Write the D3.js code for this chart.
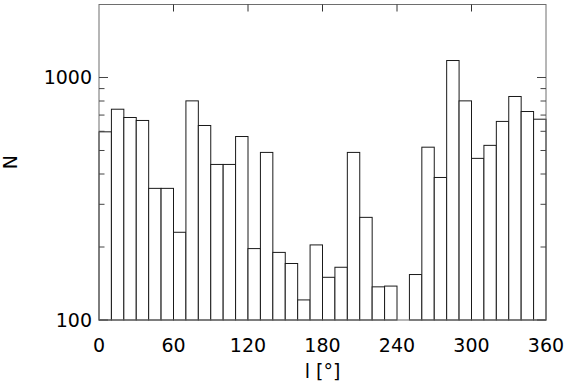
<!DOCTYPE html>
<html>
<head>
<meta charset="utf-8">
<script src="https://cdn.jsdelivr.net/npm/d3@7"></script>
<style>
    body { margin: 0; background: #fff; }
    text { font-family: "DejaVu Sans", sans-serif; fill: #000; }
</style>
</head>
<body>
<div id="chart"></div>
<script>
// bin edges, 10 degree bins
var binStart = [0, 10, 20, 30, 40, 50, 60, 70, 80, 90, 100, 110, 120, 130, 140, 150, 160, 170,
    180, 190, 200, 210, 220, 230, 240, 250, 260, 270, 280, 290, 300, 310, 320, 330, 340, 350];
var counts = [597, 740, 684, 665, 349, 349, 230, 801, 634, 438, 438, 571, 197, 491, 190, 171, 121, 204,
    150, 165, 491, 265, 137, 138, 90, 154, 516, 387, 1175, 801, 464, 525, 659, 835, 724, 673];
var xTicks = [0, 60, 120, 180, 240, 300, 360];
var yTicks = [100, 1000];
var yMinor = [200, 300, 400, 500, 600, 700, 800, 900];

var svg = d3.select("#chart")
        .append("svg")
        .attr("width", 570)
        .attr("height", 390),
    margin = {top: 4.5, right: 24, bottom: 70, left: 99},
    width = 570 - margin.left - margin.right,
    height = 390 - margin.top - margin.bottom,
    g = svg.append("g").attr("transform", "translate(" + margin.left + "," + margin.top + ")"),
    x = d3.scaleLinear()
        .domain([0, 360])
        .range([0, width]),
    y = d3.scaleLog()
        .domain([100, 2000])
        .range([height, 0])
        .clamp(true);

/* bars */
g.selectAll(".bar")
    .data(counts)
    .enter()
    .append("rect")
    .attr("class", "bar")
    .attr("x", function(d, i) { return x(binStart[i]); })
    .attr("y", function(d) { return y(d); })
    .attr("width", x(10) - x(0))
    .attr("height", function(d) { return height - y(d); })
    .style("fill", "#fff")
    .style("stroke", "#1a1a1a")
    .style("stroke-width", 1);

/* frame */
g.append("rect")
    .attr("width", width)
    .attr("height", height)
    .style("fill", "none")
    .style("stroke", "#6e6e6e")
    .style("stroke-width", 1);

/* x ticks on top, labels at bottom */
g.selectAll(".xtick")
    .data(xTicks.slice(1, -1))
    .enter()
    .append("line")
    .attr("x1", function(d) { return x(d); })
    .attr("x2", function(d) { return x(d); })
    .attr("y1", 0)
    .attr("y2", 7)
    .style("stroke", "#333");

g.selectAll(".xlabel")
    .data(xTicks)
    .enter()
    .append("text")
    .attr("x", function(d) { return x(d); })
    .attr("y", height + 32)
    .attr("text-anchor", "middle")
    .style("font-size", "19px")
    .text(function(d) { return d; });

/* y ticks both sides */
[0, width].forEach(function(side) {
    var dir = side === 0 ? 1 : -1;
    g.selectAll(null)
        .data(yTicks)
        .enter()
        .append("line")
        .attr("x1", side)
        .attr("x2", side + dir * 9)
        .attr("y1", function(d) { return y(d); })
        .attr("y2", function(d) { return y(d); })
        .style("stroke", "#444");
    g.selectAll(null)
        .data(yMinor)
        .enter()
        .append("line")
        .attr("x1", side)
        .attr("x2", side + dir * 5.5)
        .attr("y1", function(d) { return y(d); })
        .attr("y2", function(d) { return y(d); })
        .style("stroke", "#444");
});

g.selectAll(".ylabel")
    .data(yTicks)
    .enter()
    .append("text")
    .attr("x", -7)
    .attr("y", function(d) { return y(d); })
    .attr("dy", "0.36em")
    .attr("text-anchor", "end")
    .style("font-size", "19px")
    .text(function(d) { return d; });

/* axis titles */
svg.append("text")
    .attr("x", margin.left + width / 2)
    .attr("y", 378)
    .attr("text-anchor", "middle")
    .style("font-size", "19px")
    .text("l [°]");

svg.append("text")
    .attr("transform", "translate(17," + (margin.top + height / 2) + ") rotate(-90)")
    .attr("text-anchor", "middle")
    .style("font-size", "19px")
    .text("N");
</script>
</body>
</html>
